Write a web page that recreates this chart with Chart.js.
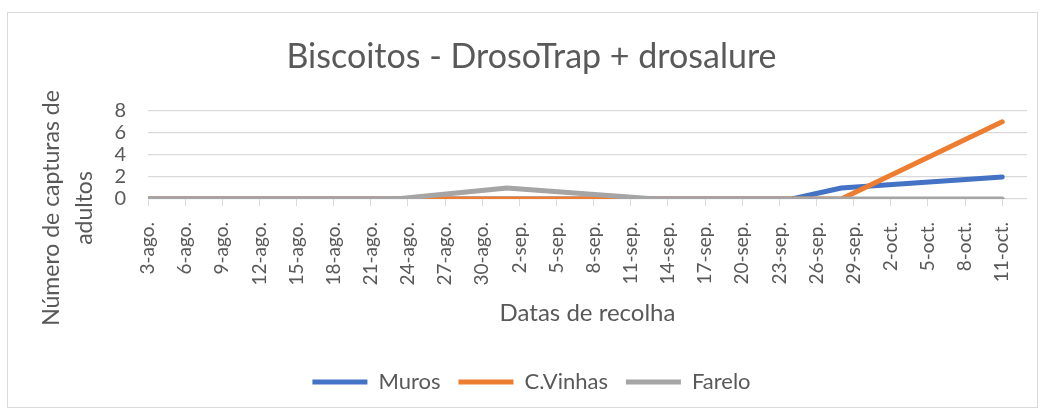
<!DOCTYPE html>
<html>
<head>
<meta charset="utf-8">
<script src="https://cdn.jsdelivr.net/npm/chart.js@4.4.0/dist/chart.umd.min.js"></script>
<style>
  html, body { margin: 0; padding: 0; background: #fff; }
  #wrap { position: relative; width: 1045px; height: 414px; }
  #frame { position: absolute; left: 7px; top: 12px; width: 1031px; height: 396px; border: 1px solid #d9d9d9; box-sizing: border-box; }
  canvas { position: absolute; left: 0; top: 0; }
</style>
</head>
<body>
<div id="wrap">
  <div id="frame"></div>
  <canvas id="chart" width="1045" height="414"></canvas>
</div>
<script>
// collection dates and catches per trap
const collectionDates = ["2023-08-03", "2023-08-23", "2023-09-01", "2023-09-13", "2023-09-24", "2023-09-28", "2023-10-11"];
const muros = [0, 0, 0, 0, 0, 1, 2];
const cVinhas = [0, 0, 0, 0, 0, 0, 7];
const farelo = [0, 0, 1, 0, 0, 0, 0];

// axis labels, one every 3 days from 3-ago.
const xTickLabels = ["3-ago.", "6-ago.", "9-ago.", "12-ago.", "15-ago.", "18-ago.", "21-ago.", "24-ago.",
  "27-ago.", "30-ago.", "2-sep.", "5-sep.", "8-sep.", "11-sep.", "14-sep.", "17-sep.", "20-sep.",
  "23-sep.", "26-sep.", "29-sep.", "2-oct.", "5-oct.", "8-oct.", "11-oct."];
const yTicks = [0, 2, 4, 6, 8];

const FONT = "Lato";
const TEXT = "#595959";
const GRID = "#d9d9d9";

// day offsets from the first collection
const start = Date.parse(collectionDates[0]);
const days = collectionDates.map(d => Math.round((Date.parse(d) - start) / 86400000));
const points = arr => arr.map((v, i) => ({ x: days[i], y: v }));

function lineSet(label, values, color, order) {
    return {
        label: label,
        data: points(values),
        borderColor: color,
        backgroundColor: color,
        borderWidth: 5,
        borderCapStyle: "round",
        borderJoinStyle: "round",
        pointRadius: 0,
        tension: 0,
        order: order
    };
}

// y axis title drawn by hand so it can sit lower than the plot centre
const yTitlePlugin = {
    id: "yTitle",
    afterDraw(chart) {
        const ctx = chart.ctx;
        ctx.save();
        ctx.fillStyle = TEXT;
        ctx.font = "23px " + FONT;
        ctx.textAlign = "center";
        ctx.textBaseline = "middle";
        ctx.translate(52, 208);
        ctx.rotate(-Math.PI / 2);
        ctx.fillText("Número de capturas de", 0, 0);
        ctx.fillText("adultos", 0, 33);
        ctx.restore();
    }
};

new Chart(document.getElementById("chart"), {
    type: "line",
    data: {
        datasets: [
            lineSet("Muros", muros, "#4472c4", 3),
            lineSet("C.Vinhas", cVinhas, "#ed7d31", 2),
            lineSet("Farelo", farelo, "#a5a5a5", 1)
        ]
    },
    options: {
        responsive: false,
        animation: false,
        layout: { padding: { left: 36, right: 18, top: 0, bottom: 11 } },
        plugins: {
            title: {
                display: true,
                text: "Biscoitos - DrosoTrap + drosalure",
                color: TEXT,
                font: { family: FONT, size: 34, weight: "normal" },
                padding: { top: 37, bottom: 33 }
            },
            legend: {
                position: "bottom",
                labels: {
                    color: TEXT,
                    font: { family: FONT, size: 22 },
                    usePointStyle: true,
                    pointStyle: "line",
                    pointStyleWidth: 55,
                    padding: 18,
                    sort: (a, b) => a.datasetIndex - b.datasetIndex
                }
            },
            tooltip: { enabled: false }
        },
        scales: {
            x: {
                type: "linear",
                min: 0,
                max: 71,
                afterFit: s => { s.height = 154; },
                ticks: {
                    stepSize: 3,
                    includeBounds: false,
                    autoSkip: false,
                    minRotation: 90,
                    maxRotation: 90,
                    padding: 16,
                    color: TEXT,
                    font: { family: FONT, size: 19 },
                    callback: v => xTickLabels[v / 3]
                },
                grid: { drawOnChartArea: false, drawTicks: true, tickLength: 7, color: GRID, lineWidth: 1 },
                border: { display: false },
                title: {
                    display: true,
                    text: "Datas de recolha",
                    color: TEXT,
                    font: { family: FONT, size: 24 },
                    padding: { top: 0, bottom: 25 }
                }
            },
            y: {
                min: 0,
                max: 8,
                afterFit: s => { s.width = 112; },
                afterBuildTicks: s => { s.ticks = yTicks.map(v => ({ value: v })); },
                ticks: {
                    autoSkip: false,
                    padding: 22,
                    color: TEXT,
                    font: { family: FONT, size: 20 }
                },
                grid: { color: GRID, lineWidth: 1.3, drawTicks: false },
                border: { display: false }
            }
        }
    },
    plugins: [yTitlePlugin]
});
</script>
</body>
</html>
